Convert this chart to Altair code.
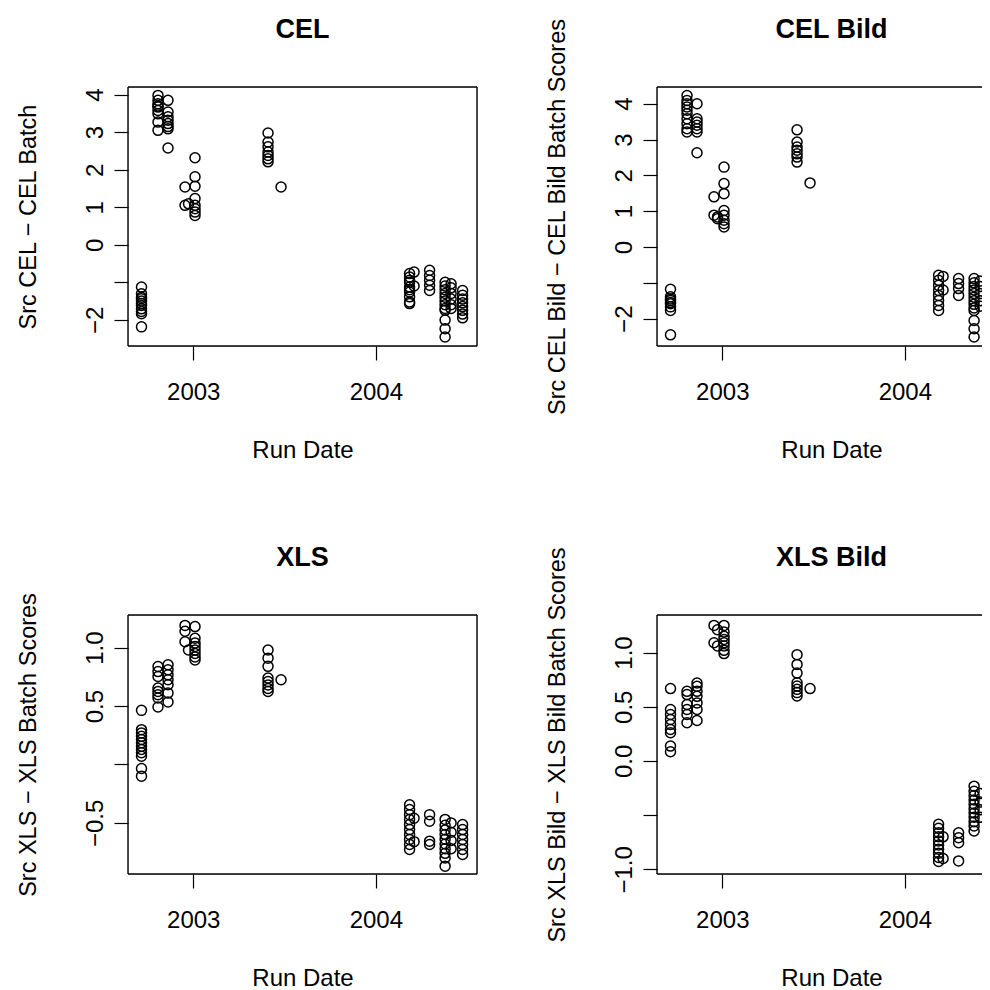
import altair as alt
import pandas as pd

FONT = "Liberation Sans"

# Run dates of the sample clusters (shared by all four panels)
RUN_DATES = ["2002-09-19", "2002-10-22", "2002-11-11", "2002-12-15", "2002-12-22",
             "2003-01-04", "2003-05-30", "2003-06-25", "2004-03-08", "2004-03-17",
             "2004-04-17", "2004-05-18", "2004-05-30", "2004-06-22"]

CEL = [[-1.13, -1.31, -1.40, -1.44, -1.50, -1.57, -1.62, -1.71, -1.78, -1.84, -2.19],
       [3.98, 3.85, 3.76, 3.70, 3.67, 3.58, 3.49, 3.27, 3.05],
       [3.85, 3.54, 3.41, 3.32, 3.23, 3.15, 3.09, 2.58],
       [1.54, 1.05],
       [1.09],
       [2.32, 1.81, 1.56, 1.23, 1.05, 0.96, 0.87, 0.78],
       [2.98, 2.74, 2.61, 2.47, 2.38, 2.29, 2.21],
       [1.54],
       [-0.77, -0.86, -0.95, -1.00, -1.13, -1.20, -1.26, -1.39, -1.53, -1.57],
       [-0.73, -1.10],
       [-0.68, -0.82, -0.95, -1.08, -1.22],
       [-1.00, -1.10, -1.20, -1.30, -1.40, -1.50, -1.60, -1.70, -1.75, -2.01, -2.24, -2.46],
       [-1.04, -1.15, -1.30, -1.45, -1.60, -1.70],
       [-1.22, -1.35, -1.45, -1.55, -1.65, -1.75, -1.85, -1.95]]

CEL_BILD = [[-1.18, -1.39, -1.45, -1.49, -1.55, -1.58, -1.67, -1.77, -2.45],
            [4.23, 4.09, 4.00, 3.91, 3.82, 3.72, 3.58, 3.44, 3.30, 3.21],
            [4.00, 3.58, 3.49, 3.40, 3.30, 3.21, 2.63],
            [1.40, 0.89],
            [0.84, 0.79],
            [2.23, 1.77, 1.49, 1.02, 0.89, 0.75, 0.65, 0.56],
            [3.27, 2.93, 2.79, 2.70, 2.60, 2.51, 2.37],
            [1.79],
            [-0.79, -0.93, -1.07, -1.21, -1.35, -1.49, -1.63, -1.77],
            [-0.82, -1.20],
            [-0.88, -1.02, -1.16, -1.35],
            [-0.88, -1.00, -1.10, -1.20, -1.30, -1.40, -1.50, -1.60, -1.70, -1.77, -2.05, -2.28, -2.51],
            [-0.95, -1.10, -1.30, -1.50, -1.65],
            [-1.20, -1.30, -1.40, -1.50, -1.60]]

XLS = [[0.463, 0.298, 0.270, 0.241, 0.213, 0.185, 0.156, 0.128, 0.100, 0.071, -0.034, -0.100],
       [0.838, 0.795, 0.753, 0.654, 0.625, 0.597, 0.569, 0.492],
       [0.853, 0.810, 0.767, 0.725, 0.682, 0.611, 0.535],
       [1.19, 1.14, 1.05],
       [0.98],
       [1.18, 1.08, 1.04, 1.01, 0.98, 0.95, 0.92, 0.895],
       [0.98, 0.91, 0.84, 0.74, 0.71, 0.68, 0.65, 0.625],
       [0.725],
       [-0.344, -0.386, -0.429, -0.471, -0.514, -0.557, -0.599, -0.642, -0.685, -0.727],
       [-0.46, -0.66],
       [-0.429, -0.486, -0.656, -0.685],
       [-0.47, -0.52, -0.56, -0.60, -0.64, -0.68, -0.72, -0.76, -0.80, -0.87],
       [-0.50, -0.58, -0.65, -0.72],
       [-0.514, -0.557, -0.599, -0.642, -0.685, -0.727, -0.770]]

XLS_BILD = [[0.667, 0.474, 0.428, 0.382, 0.336, 0.290, 0.260, 0.137, 0.085],
            [0.642, 0.612, 0.520, 0.474, 0.428, 0.352],
            [0.719, 0.688, 0.642, 0.596, 0.535, 0.474, 0.373],
            [1.25, 1.09],
            [1.21, 1.06],
            [1.25, 1.19, 1.15, 1.12, 1.09, 1.06, 1.02, 0.99],
            [0.98, 0.89, 0.81, 0.72, 0.69, 0.66, 0.63, 0.60],
            [0.667],
            [-0.585, -0.622, -0.662, -0.699, -0.738, -0.775, -0.815, -0.851, -0.891, -0.928],
            [-0.70, -0.90],
            [-0.662, -0.708, -0.754, -0.922],
            [-0.233, -0.28, -0.32, -0.36, -0.40, -0.44, -0.48, -0.52, -0.56, -0.60, -0.646],
            [-0.30, -0.38, -0.45, -0.52],
            [-0.28, -0.35, -0.42, -0.48, -0.55]]

TITLES = ["CEL", "CEL Bild", "XLS", "XLS Bild"]
Y_TITLES = ["Src CEL \u2212 CEL Batch",
            "Src CEL Bild \u2212 CEL Bild Batch Scores",
            "Src XLS \u2212 XLS Batch Scores",
            "Src XLS Bild \u2212 XLS Bild Batch Scores"]
Y_DOMAINS = [[-2.70, 4.205], [-2.762, 4.466], [-0.937, 1.279], [-1.043, 1.346]]
Y_TICKS = [[-2, -1, 0, 1, 2, 3, 4], [-2, -1, 0, 1, 2, 3, 4],
           [-0.5, 0.0, 0.5, 1.0], [-1.0, -0.5, 0.0, 0.5, 1.0]]
Y_HIDDEN = [-1, -1, 0.0, -0.5]   # tick labels R dropped for overlap
Y_FORMATS = ["d", "d", ".1f", ".1f"]

W_FULL, W_CUT, H = 349, 332, 259
AX = 24
YT = 23.5
TS = 27


def make_df(values):
    rows = []
    for d, vals in zip(RUN_DATES, values):
        for v in vals:
            rows.append({"date": d + "T12:00:00", "score": v})
    return pd.DataFrame(rows)


def rule(**enc):
    return alt.Chart(alt.Data(values=[{"k": 1}])).mark_rule(
        color="black", strokeWidth=1.4).encode(**enc)


def panel(i, cut):
    w = W_CUT if cut else W_FULL
    x_end = (alt.DateTime(year=2004, month=6, date=17, hours=7) if cut
             else alt.DateTime(year=2004, month=7, date=21, hours=7))
    x = alt.X("date:T",
              scale=alt.Scale(domain=[alt.DateTime(year=2002, month=8, date=23, hours=12), x_end]),
              axis=alt.Axis(values=[alt.DateTime(year=2003, month=1, date=1),
                                    alt.DateTime(year=2004, month=1, date=1)],
                            format="%Y", title="Run Date", grid=False, domain=False,
                            tickSize=14, tickColor="black", tickWidth=1.2,
                            labelFontSize=AX, labelBaseline="middle", labelPadding=32,
                            labelOverlap=False, labelFlush=False,
                            titleFontSize=AX, titleFontWeight="normal",
                            titleX=W_FULL / 2, titleY=104, titleAlign="center",
                            titleBaseline="middle"))
    y = alt.Y("score:Q",
              scale=alt.Scale(domain=Y_DOMAINS[i], nice=False, zero=False),
              axis=alt.Axis(values=Y_TICKS[i], format=Y_FORMATS[i],
                            labelExpr=f"datum.value == {Y_HIDDEN[i]} ? '' : datum.label",
                            grid=False, domain=False, tickSize=14, tickColor="black",
                            tickWidth=1.2, labelFontSize=AX, labelAngle=-90,
                            labelAlign="center", labelBaseline="middle", labelPadding=19,
                            labelOverlap=False, labelFlush=False,
                            title=Y_TITLES[i], titleFontSize=YT, titleFontWeight="normal",
                            titleX=-100, titleY=H / 2, titleAngle=-90,
                            titleAlign="center", titleBaseline="middle"))
    pts = alt.Chart(make_df([CEL, CEL_BILD, XLS, XLS_BILD][i])).mark_point(
        shape="circle", filled=False, color="black", size=100, strokeWidth=1.5,
        opacity=1, clip=cut).encode(x=x, y=y)
    frame = [rule(x=alt.value(0), x2=alt.value(w), y=alt.value(0)),
             rule(x=alt.value(0), x2=alt.value(w), y=alt.value(H)),
             rule(x=alt.value(0), y=alt.value(0), y2=alt.value(H))]
    if not cut:
        frame.append(rule(x=alt.value(w), y=alt.value(0), y2=alt.value(H)))
    title = alt.Chart(alt.Data(values=[{"t": TITLES[i]}])).mark_text(
        font=FONT, fontSize=TS, fontWeight="bold", color="black",
        align="center", baseline="middle").encode(
        x=alt.value(W_FULL / 2), y=alt.value(-57), text="t:N")
    return alt.layer(pts, *frame, title).properties(width=w, height=H)


chart = alt.concat(panel(0, False), panel(1, True), panel(2, False), panel(3, True),
                   columns=2, spacing=alt.RowColnumber(row=269, column=180),
                   bounds="flush").properties(
    padding={"left": 7, "top": 7, "right": -9, "bottom": 0}
).configure_view(stroke=None).configure_axis(
    labelFont=FONT, titleFont=FONT, labelColor="black", titleColor="black"
).configure(background="white")

chart.save("out.html", embed_options={"renderer": "svg", "actions": False})
